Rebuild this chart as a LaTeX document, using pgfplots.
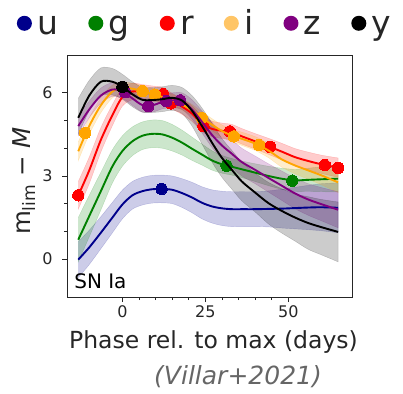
\documentclass[border=0pt]{standalone}
\usepackage{pgfplots}
\pgfplotsset{compat=1.18}
\usepgfplotslibrary{fillbetween}
\usepackage{fontspec}
\setmainfont{DejaVu Sans}
\definecolor{uC}{HTML}{00008B}
\definecolor{gC}{HTML}{008000}
\definecolor{rC}{HTML}{FF0000}
\definecolor{iC}{HTML}{FFA500}
\definecolor{iL}{HTML}{FFC566}
\definecolor{zC}{HTML}{800080}
\definecolor{yC}{HTML}{000000}
\definecolor{txt}{HTML}{262626}
\definecolor{vil}{HTML}{666666}

\pgfplotstableread{
x y lo hi
-13.3 -0.02 -0.67 0.63
-10 0.42 -0.20 1.04
-6.5 0.95 0.37 1.53
-3 1.50 0.95 2.05
0 1.97 1.45 2.49
3 2.30 1.80 2.80
6 2.45 1.95 2.95
9 2.52 2.02 3.02
12 2.53 2.03 3.03
15 2.50 2.00 3.00
18 2.38 1.86 2.90
21 2.22 1.67 2.77
24 2.03 1.45 2.61
27 1.90 1.30 2.50
30 1.83 1.21 2.45
33 1.80 1.17 2.43
36 1.80 1.17 2.43
40 1.80 1.17 2.43
44 1.81 1.16 2.46
48 1.82 1.12 2.52
52 1.84 1.09 2.59
56 1.86 1.06 2.66
60 1.87 1.02 2.72
65 1.85 0.95 2.75
}\utab
\pgfplotstableread{
x y lo hi
-13.3 0.70 -0.10 1.50
-10 1.55 0.80 2.30
-6.5 2.45 1.77 3.13
-3 3.35 2.75 3.95
0 3.90 3.35 4.45
3 4.25 3.73 4.77
6 4.45 3.95 4.95
9 4.52 4.02 5.02
12 4.50 4.00 5.00
15 4.38 3.90 4.86
18 4.20 3.75 4.65
21 3.98 3.56 4.40
24 3.77 3.39 4.15
27 3.56 3.21 3.91
30 3.42 3.10 3.74
33 3.33 3.03 3.63
36 3.24 2.94 3.54
40 3.12 2.80 3.44
44 3.00 2.65 3.35
48 2.90 2.52 3.28
52 2.84 2.44 3.24
56 2.86 2.44 3.28
60 2.88 2.43 3.33
65 2.90 2.42 3.38
}\gtab
\pgfplotstableread{
x y lo hi
-13.3 2.30 1.80 2.80
-10 3.20 2.72 3.68
-6.5 4.30 3.86 4.74
-3 5.20 4.82 5.58
0 5.85 5.52 6.18
3 6.05 5.75 6.35
6 6.02 5.74 6.30
9 5.97 5.69 6.25
12 5.92 5.64 6.20
15 5.70 5.42 5.98
18 5.50 5.22 5.78
21 5.25 4.97 5.53
24 4.88 4.60 5.16
27 4.70 4.42 4.98
30 4.63 4.35 4.91
33 4.58 4.30 4.86
36 4.43 4.15 4.71
40 4.25 3.97 4.53
44 4.07 3.78 4.36
48 3.88 3.58 4.18
52 3.68 3.37 3.99
56 3.54 3.22 3.86
60 3.42 3.09 3.75
65 3.30 2.95 3.65
}\rtab
\pgfplotstableread{
x y lo hi
-13.3 3.89 3.55 4.23
-10 4.80 4.50 5.10
-6.5 5.55 5.28 5.82
-3 6.05 5.82 6.28
0 6.18 5.97 6.39
3 6.15 5.95 6.35
6 6.06 5.86 6.26
9 5.96 5.76 6.16
12 5.85 5.65 6.05
15 5.74 5.54 5.94
18 5.58 5.38 5.78
21 5.37 5.16 5.58
24 5.10 4.88 5.32
27 4.85 4.63 5.07
30 4.62 4.40 4.84
33 4.46 4.23 4.69
36 4.34 4.10 4.58
40 4.17 3.92 4.42
44 3.92 3.66 4.18
48 3.60 3.32 3.88
52 3.38 3.08 3.68
56 3.20 2.88 3.52
60 3.02 2.68 3.36
65 2.77 2.40 3.14
}\itab
\pgfplotstableread{
x y lo hi
-13.3 4.80 4.45 5.15
-10 5.40 5.10 5.70
-6.5 5.90 5.63 6.17
-3 6.12 5.87 6.37
0 6.05 5.80 6.30
3 5.80 5.55 6.05
6 5.56 5.31 5.81
9 5.55 5.30 5.80
12 5.67 5.42 5.92
15 5.73 5.46 6.00
18 5.70 5.40 6.00
21 5.40 5.05 5.75
24 4.95 4.55 5.35
27 4.48 4.03 4.93
30 4.10 3.62 4.58
33 3.80 3.30 4.30
36 3.50 3.00 4.00
40 3.22 2.72 3.72
44 2.93 2.42 3.44
48 2.65 2.12 3.18
52 2.37 1.82 2.92
56 2.15 1.58 2.72
60 1.98 1.38 2.58
65 1.78 1.13 2.43
}\ztab
\pgfplotstableread{
x y lo hi
-13.3 5.10 4.50 5.80
-10 5.90 5.35 6.45
-6.5 6.40 5.90 6.90
-3 6.40 5.92 6.88
0 6.22 5.77 6.67
3 5.95 5.50 6.40
6 5.75 5.30 6.20
9 5.74 5.29 6.19
12 5.77 5.32 6.22
15 5.82 5.37 6.27
18 5.72 5.25 6.19
21 5.35 4.80 5.90
24 4.80 4.15 5.45
27 4.20 3.50 4.90
30 3.65 2.95 4.35
33 3.22 2.52 3.92
36 2.80 2.10 3.50
40 2.40 1.70 3.10
44 2.02 1.27 2.77
48 1.74 0.94 2.54
52 1.50 0.65 2.35
56 1.30 0.35 2.25
60 1.15 0.15 2.15
65 0.98 -0.10 2.06
}\ytab

\newcommand{\series}[4]{% table, color, name, markers
  \addplot[draw=none, smooth, name path=#3hi, forget plot] table[x=x,y=hi]{#1};
  \addplot[draw=none, smooth, name path=#3lo, forget plot] table[x=x,y=lo]{#1};
  \addplot[fill=#2, fill opacity=0.2, draw=#2, draw opacity=0.2, forget plot] fill between[of=#3hi and #3lo];
  \addplot[#2, line width=1.9pt, smooth, forget plot] table[x=x,y=y]{#1};
  \addplot[#2, only marks, mark=*, mark size=5.7pt, mark options={draw=#2, line width=0pt, fill=#2}, forget plot] coordinates {#4};
}

\begin{document}
\begin{tikzpicture}
\begin{axis}[
  at={(0pt,0pt)}, anchor=south west,
  width=285pt, height=241pt, scale only axis,
  xmin=-16.7, xmax=69.2, ymin=-1.37, ymax=7.33,
  xtick={0,25,50}, ytick={0,3,6},
  minor x tick num=4, minor y tick num=2,
  tick pos=left, tick align=outside,
  major tick length=5pt, minor tick length=3pt,
  every tick/.style={txt, line width=0.8pt},
  axis line style={txt, line width=1pt},
  clip mode=individual,
  /pgf/number format/assume math mode=true,
  ticklabel style={font=\fontsize{16}{16}\selectfont, text=txt},
  yticklabel style={xshift=-6pt},
  xlabel={Phase rel. to max (days)},
  ylabel={m\textsubscript{lim} − \textit{M}},
  xlabel style={font=\fontsize{23.5}{24}\selectfont, text=txt, at={(rel axis cs:0.5,0)}, anchor=center, yshift=-44.7pt, xshift=4pt},
  ylabel style={font=\fontsize{24.5}{25}\selectfont, text=txt, at={(rel axis cs:0,0.5)}, anchor=center, yshift=43pt, xshift=-4.5pt},
  legend columns=6,
  legend image code/.code={\path[draw=none, fill=none] (0pt,0pt) rectangle (18.5pt,0.1pt); \fill[#1, draw=none] (7.5pt,11pt) circle (7.5pt);},
  legend style={at={(-0.1765,1.139)}, anchor=west, draw=none, fill=none, inner sep=0pt,
    cells={anchor=base west, inner sep=3.3pt},
    font=\fontsize{33}{33}\selectfont, text=txt,
    /tikz/every even column/.append style={column sep=28pt}},
]
\series{\utab}{uC}{u}{(11.8,2.53)}
\series{\gtab}{gC}{g}{(31.4,3.37) (51.2,2.83)}
\series{\rtab}{rC}{r}{(-13.3,2.3) (12.3,5.95) (14.6,5.62) (24.4,4.8) (32.4,4.61) (44.5,4.05) (61,3.39) (65,3.29)}
\series{\itab}{iC}{i}{(-11.2,4.55) (6.1,6.06) (9.8,5.94) (23.9,5.1) (33.6,4.43) (41.2,4.11)}
\series{\ztab}{zC}{z}{(0.8,6.02) (7.8,5.52) (13.2,5.7) (17.4,5.73)}
\series{\ytab}{yC}{y}{(0,6.22)}
\addlegendimage{fill=uC}\addlegendentry{u}
\addlegendimage{fill=gC}\addlegendentry{g}
\addlegendimage{fill=rC}\addlegendentry{r}
\addlegendimage{fill=iL}\addlegendentry{i}
\addlegendimage{fill=zC}\addlegendentry{z}
\addlegendimage{fill=yC}\addlegendentry{y}
\node[anchor=base west, font=\fontsize{20}{20}\selectfont, inner sep=0pt] at (rel axis cs:0.025,0.037) {SN Ia};
\node[anchor=center, font=\fontsize{25}{25}\selectfont\itshape, text=vil, inner sep=0pt] at (rel axis cs:0.6,-0.33) {(Villar+2021)};
\end{axis}
\pgfresetboundingbox
\useasboundingbox (-67pt,-96pt) rectangle (336pt,297pt);
\end{tikzpicture}
\end{document}
